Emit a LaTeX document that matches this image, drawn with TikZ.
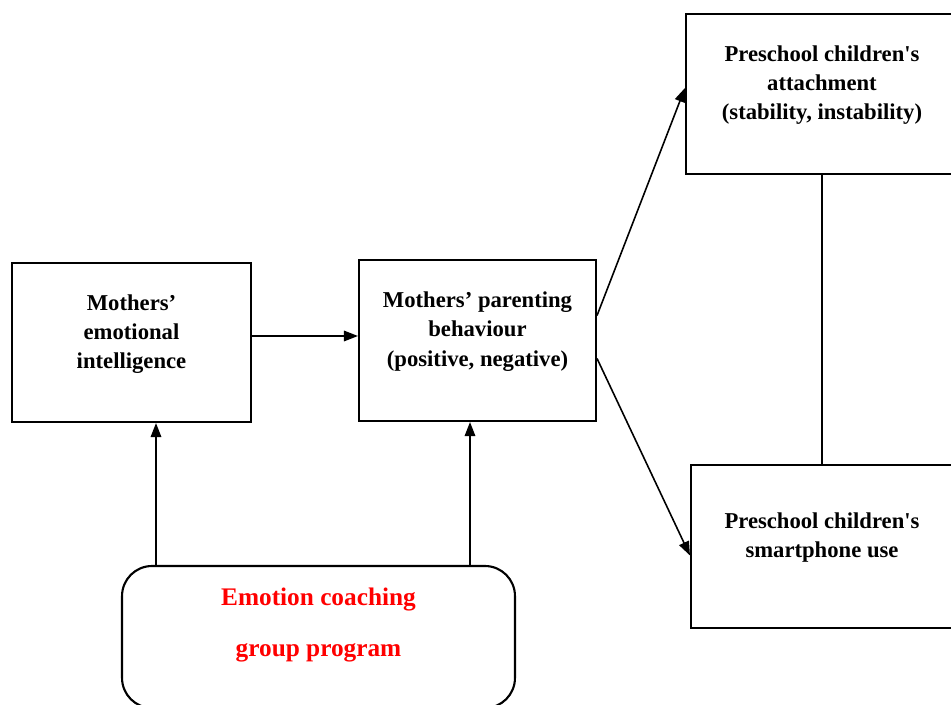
\documentclass[tikz,border=0pt]{standalone}
\usepackage{fontspec}
\setmainfont{Liberation Serif}
\usepackage{tikz}
\usetikzlibrary{arrows.meta, positioning, calc}
\newcommand{\figTip}{{Triangle[length=2.8mm, width=2.1mm]}}

\begin{document}
\begin{tikzpicture}[x=0.02cm, y=-0.02cm,
	box/.style={draw, line width=1.2pt, inner sep=0pt},
	txt/.style={align=center, font=\bfseries\fontsize{12.9}{16.7}\selectfont},
	redtxt/.style={align=center, text=red, font=\bfseries\fontsize{14.4}{29}\selectfont},
	arr/.style={-\figTip, line width=0.9pt}]
	\useasboundingbox (0,0) rectangle (951,705);
	\clip (0,0) rectangle (951,705);
	
	\node[box, minimum width=4.78cm, minimum height=3.18cm]	(emo) at (131.5,342.5) {};
	\node[box, minimum width=4.74cm, minimum height=3.22cm]	(par) at (477.5,340.5) {};
	\node[box, minimum width=5.44cm, minimum height=3.20cm]	(att) at (822,94) {};
	\node[box, minimum width=5.24cm, minimum height=3.26cm]	(phone) at (822,546.5) {};
	\node[box, rounded corners=0.6cm, minimum width=7.86cm, minimum height=2.84cm]	(prog) at (318.5,637) {};
	
	\node[txt]	(emotxt) at ([yshift=0.17cm]emo.center)	{Mothers’\\emotional\\intelligence};
	\node[txt]	(partxt) at ([yshift=0.18cm]par.center)	{Mothers’ parenting\\behaviour\\(positive, negative)};
	\node[txt]	(atttxt) at ([yshift=0.18cm]att.center)	{Preschool children\textquotesingle s\\attachment\\(stability, instability)};
	\node[txt]	(phonetxt) at ([yshift=0.18cm]phone.center)	{Preschool children\textquotesingle s\\smartphone use};
	\node[redtxt]	(progtxt) at ([yshift=0.24cm]prog.center)	{Emotion coaching\\group program};
	
	\coordinate (inA) at ([xshift=0.49cm]emo.south);
	\coordinate (inB) at ([xshift=-0.15cm]par.south);
	
	\draw[arr]	([yshift=0.13cm]emo.east) -- ([yshift=0.13cm]emo.east -| par.west);
	\draw[arr]	(prog.north -| inA) -- (inA);
	\draw[arr]	(prog.north -| inB) -- (inB);
	\draw[arr]	([yshift=0.5cm]par.east) -- ([yshift=0.12cm]att.west);
	\draw[arr]	([yshift=-0.36cm]par.east) -- ([yshift=-0.18cm]phone.west);
	\draw[line width=0.6pt]	(att.south) -- (phone.north);
\end{tikzpicture}
\end{document}
